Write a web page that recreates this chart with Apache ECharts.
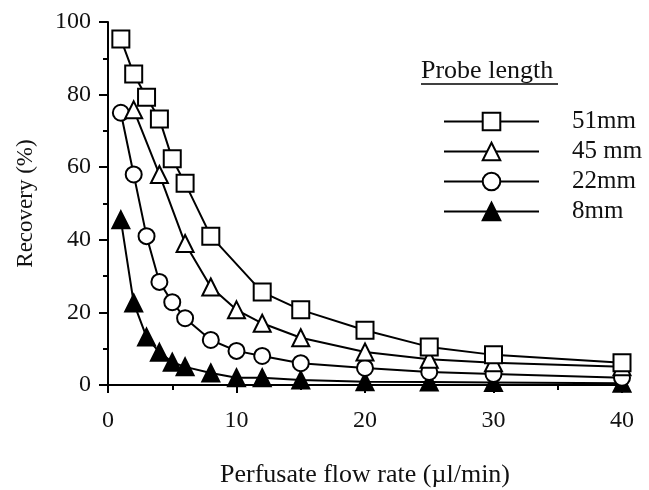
<!DOCTYPE html>
<html>
<head>
<meta charset="utf-8">
<script src="https://cdn.jsdelivr.net/npm/echarts@6/dist/echarts.min.js"></script>
<style>
  html, body { margin: 0; padding: 0; background: #fff; }
  #chart { width: 649px; height: 490px; }
</style>
</head>
<body>
<div id="chart"></div>
<script>
// flow rates (ul/min) and recovery (%)
var flow51 = [1, 2, 3, 4, 5, 6, 8, 12, 15, 20, 25, 30, 40];
var rec51 = [95.3, 85.7, 79.3, 73.3, 62.3, 55.6, 41, 25.6, 20.7, 15.1, 10.5, 8.3, 6.1];

var flow45 = [2, 4, 6, 8, 10, 12, 15, 20, 25, 30, 40];
var rec45 = [75.8, 58, 39, 27, 20.7, 17, 13, 9.1, 7.1, 6.1, 5];

var flow22 = [1, 2, 3, 4, 5, 6, 8, 10, 12, 15, 20, 25, 30, 40];
var rec22 = [75, 58, 41, 28.4, 22.8, 18.4, 12.4, 9.4, 8, 6, 4.7, 3.6, 3, 2];

var flow8 = [1, 2, 3, 4, 5, 6, 8, 10, 12, 15, 20, 25, 30, 40];
var rec8 = [45.5, 22.6, 13.2, 9, 6.3, 5, 3.3, 2, 2, 1.4, 0.9, 0.8, 0.7, 0.5];

var seriesNames = ['51mm', '45 mm', '22mm', '8mm'];

var fontFam = '"Liberation Serif", "DejaVu Serif", serif';

function pairs(xs, ys) {
    var out = [];
    for (var i = 0; i < xs.length; i++) out.push([xs[i], ys[i]]);
    return out;
}

function makeSeries(name, data, symbol, size, filled) {
    return {
        name: name,
        type: 'line',
        data: data,
        symbol: symbol,
        symbolSize: size,
        showAllSymbol: true,
        lineStyle: { color: '#000', width: 2 },
        itemStyle: {
            color: filled ? '#000' : '#fff',
            borderColor: '#000',
            borderWidth: 2
        },
        emphasis: { disabled: true }
    };
}

var myChart = echarts.init(document.getElementById('chart'));

var option = {
    backgroundColor: '#fff',
    animation: false,
    grid: { left: 108, right: 27, top: 22, bottom: 105, outerBoundsMode: 'none' },
    xAxis: {
        type: 'value',
        min: 0,
        max: 40,
        interval: 10,
        name: 'Perfusate flow rate (\u00b5l/min)',
        nameLocation: 'middle',
        nameGap: 77,
        nameTextStyle: { color: '#111', fontSize: 26, fontFamily: fontFam },
        axisLine: { lineStyle: { color: '#000', width: 2 } },
        axisTick: { inside: false, length: 8, lineStyle: { color: '#000', width: 2 } },
        minorTick: { show: true, splitNumber: 2, length: 5, lineStyle: { color: '#000', width: 2 } },
        axisLabel: { color: '#111', fontSize: 24, fontFamily: fontFam, margin: 24 },
        splitLine: { show: false },
        minorSplitLine: { show: false }
    },
    yAxis: {
        type: 'value',
        min: 0,
        max: 100,
        interval: 20,
        name: 'Recovery (%)',
        nameLocation: 'middle',
        nameGap: 71,
        nameTextStyle: { color: '#111', fontSize: 23, fontFamily: fontFam },
        axisLine: { show: true, lineStyle: { color: '#000', width: 2 } },
        axisTick: { show: true, inside: false, length: 9, lineStyle: { color: '#000', width: 2 } },
        minorTick: { show: true, splitNumber: 2, length: 5, lineStyle: { color: '#000', width: 2 } },
        axisLabel: { color: '#111', fontSize: 24, fontFamily: fontFam, margin: 17 },
        splitLine: { show: false },
        minorSplitLine: { show: false }
    },
    legend: {
        orient: 'vertical',
        left: 438,
        top: 104,
        itemWidth: 95,
        itemHeight: 22,
        itemGap: 5,
        data: seriesNames,
        textStyle: { color: '#111', fontSize: 25, fontFamily: fontFam, padding: [0, 0, 0, 28] },
        selectedMode: false
    },
    graphic: [
        {
            type: 'text',
            left: 421,
            top: 58,
            style: { text: 'Probe length', fill: '#111', fontSize: 26, fontFamily: fontFam }
        },
        {
            type: 'line',
            shape: { x1: 421, y1: 84, x2: 558, y2: 84 },
            style: { stroke: '#000', lineWidth: 1.5 }
        }
    ],
    series: [
        makeSeries(seriesNames[3], pairs(flow8, rec8), 'triangle', 17, true),
        makeSeries(seriesNames[2], pairs(flow22, rec22), 'circle', 16, false),
        makeSeries(seriesNames[1], pairs(flow45, rec45), 'triangle', 17, false),
        makeSeries(seriesNames[0], pairs(flow51, rec51), 'rect', 17, false)
    ]
};

myChart.setOption(option);
</script>
</body>
</html>
